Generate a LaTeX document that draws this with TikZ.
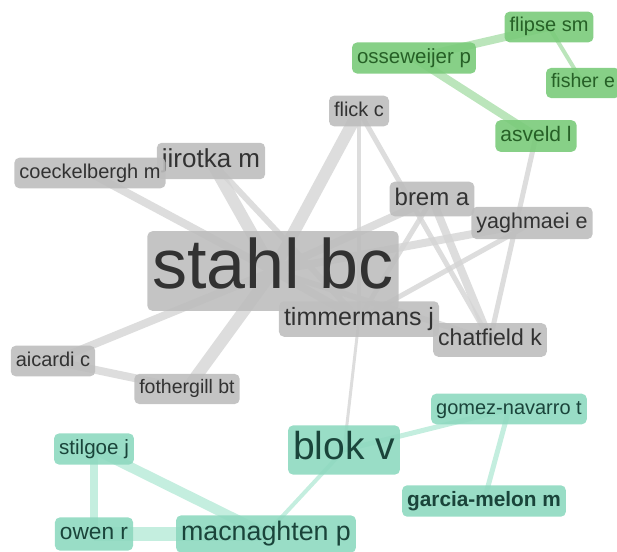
\documentclass[tikz,border=0pt]{standalone}
\usepackage{fontspec}
\setmainfont{Liberation Sans}
\usetikzlibrary{backgrounds}
\definecolor{nodegrey}{RGB}{190,190,190}
\definecolor{textgrey}{RGB}{50,50,50}
\definecolor{nodegreen}{RGB}{122,203,122}
\definecolor{textgreen}{RGB}{38,96,38}
\definecolor{nodeteal}{RGB}{142,217,192}
\definecolor{textteal}{RGB}{26,68,58}
\definecolor{linkgrey}{RGB}{212,212,212}
\definecolor{linkgreen}{RGB}{180,226,180}
\definecolor{linkteal}{RGB}{190,236,220}
\newcommand{\labsize}[1]{\fontsize{#1}{#1}\selectfont}

\begin{document}
\begin{tikzpicture}[x=1pt,y=-1pt,
  author/.style={rounded corners=5pt,inner xsep=5pt,inner ysep=5.5pt,
    fill opacity=0.9,text opacity=1},
  size/.style={font=\labsize{#1},text height={0.74*#1},text depth={0.24*#1}},
  core/.style={author,fill=nodegrey,text=textgrey},
  bio/.style={author,fill=nodegreen,text=textgreen},
  rri/.style={author,fill=nodeteal,text=textteal},
  glink/.style={draw=linkgrey,draw opacity=0.8,line width=#1},
  blink/.style={draw=linkgreen,draw opacity=0.9,line width=#1},
  tlink/.style={draw=linkteal,draw opacity=0.9,line width=#1}]
\useasboundingbox (0,0) rectangle (617,551);
% grey cluster
\node[core,size=70] (stahl) at (273,271) {stahl bc};
\node[core,size=25] (timmermans) at (359,319) {timmermans j};
\node[core,size=23] (chatfield) at (490,340) {chatfield k};
\node[core,size=24] (brem) at (432,199) {brem a};
\node[core,size=21.5] (yaghmaei) at (532,223) {yaghmaei e};
\node[core,size=20] (flick) at (359,111) {flick c};
\node[core,size=26] (jirotka) at (211,161) {jirotka m};
\node[core,size=20] (coeckelbergh) at (90,173) {coeckelbergh m};
\node[core,size=20] (aicardi) at (53,361) {aicardi c};
\node[core,size=19.5] (fothergill) at (187,389) {fothergill bt};
% green cluster
\node[bio,size=20.5] (osseweijer) at (414,58) {osseweijer p};
\node[bio,size=20] (flipse) at (549,27) {flipse sm};
\node[bio,size=19.5] (fisher) at (583,83) {fisher e};
\node[bio,size=21] (asveld) at (536,136) {asveld l};
% teal cluster
\node[rri,size=39] (blok) at (344,450) {blok v};
\node[rri,size=20] (gomez) at (509,409) {gomez-navarro t};
\node[rri,size=20.8,font=\bfseries\labsize{20.8}] (garcia) at (484,501) {garcia-melon m};
\node[rri,size=20.6] (stilgoe) at (94,449) {stilgoe j};
\node[rri,size=22.7] (owen) at (94,534) {owen r};
\node[rri,size=26.8] (macnaghten) at (266,534) {macnaghten p};

\begin{pgfonlayer}{background}
\draw[glink=12] (stahl.center) -- (jirotka.center);
\draw[glink=8] (stahl.center) -- (coeckelbergh.center);
\draw[glink=12] (stahl.center) -- (fothergill.center);
\draw[glink=8] (stahl.center) -- (aicardi.center);
\draw[glink=12] (stahl.center) -- (flick.center);
\draw[glink=8] (stahl.center) -- (brem.center);
\draw[glink=8] (stahl.center) -- (yaghmaei.center);
\draw[glink=6] (stahl.center) -- (chatfield.center);
\draw[glink=8] (stahl.center) -- (timmermans.center);
\draw[glink=6] (jirotka.center) -- (timmermans.center);
\draw[glink=4] (flick.center) -- (timmermans.center);
\draw[glink=5] (flick.center) -- (chatfield.center);
\draw[glink=8] (brem.center) -- (chatfield.center);
\draw[glink=5] (brem.center) -- (timmermans.center);
\draw[glink=5] (yaghmaei.center) -- (timmermans.center);
\draw[glink=8] (aicardi.center) -- (fothergill.center);
\draw[glink=3] (timmermans.center) -- (blok.center);
\draw[glink=5] (asveld.center) -- (chatfield.center);
\draw[blink=8] (osseweijer.center) -- (flipse.center);
\draw[blink=8] (osseweijer.center) -- (asveld.center);
\draw[blink=4] (flipse.center) -- (fisher.center);
\draw[tlink=5] (blok.center) -- (gomez.center);
\draw[tlink=5] (gomez.center) -- (garcia.center);
\draw[tlink=4] (blok.center) -- (macnaghten.center);
\draw[tlink=8] (stilgoe.center) -- (owen.center);
\draw[tlink=10] (stilgoe.center) -- (macnaghten.center);
\draw[tlink=14] (owen.center) -- (macnaghten.center);
\end{pgfonlayer}
\end{tikzpicture}
\end{document}
